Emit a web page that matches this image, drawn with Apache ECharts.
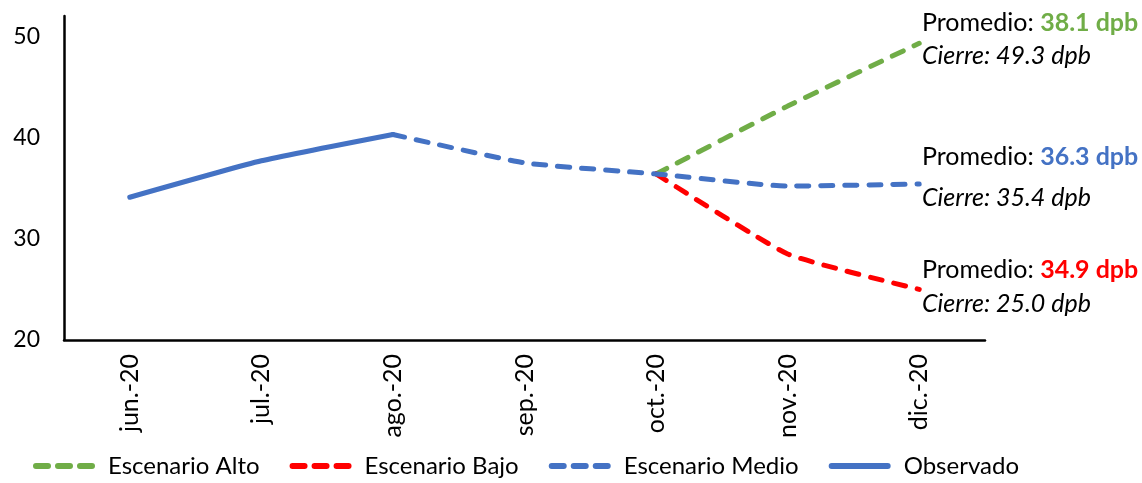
<!DOCTYPE html>
<html>
<head>
<meta charset="utf-8">
<script src="https://cdn.jsdelivr.net/npm/echarts@6/dist/echarts.min.js"></script>
<style>
  html, body { margin: 0; padding: 0; background: #fff; }
  #chart { width: 1142px; height: 483px; }
</style>
</head>
<body>
<div id="chart"></div>
<script>
// meses
const months = ['jun.-20', 'jul.-20', 'ago.-20', 'sep.-20', 'oct.-20', 'nov.-20', 'dic.-20'];
// series (null = sin dato)
const observado = [34.1, 37.7, 40.3, null, null, null, null];
const escMedio = [null, null, 40.3, 37.5, 36.4, 35.2, 35.4];
const escAlto = [null, null, null, null, 36.4, 43.1, 49.3];
const escBajo = [null, null, null, null, 36.4, 28.5, 25.0];
// anotaciones a la derecha
const promedios = ['38.1', '36.3', '34.9'];
const cierres = ['49.3', '35.4', '25.0'];
const yTicks = [20, 30, 40, 50];

const GREEN = '#70AD47', RED = '#FF0000', BLUE = '#4472C4';
const FONT = 'Lato';

// iconos de la leyenda: tres guiones redondeados / una línea
const ICON_DASH = 'path://M3,0 H15 A3,3 0 0 1 15,6 H3 A3,3 0 0 1 3,0 Z ' +
    'M25,0 H37 A3,3 0 0 1 37,6 H25 A3,3 0 0 1 25,0 Z ' +
    'M47,0 H59 A3,3 0 0 1 59,6 H47 A3,3 0 0 1 47,0 Z';
const ICON_SOLID = 'path://M3,0 H59 A3,3 0 0 1 59,6 H3 A3,3 0 0 1 3,0 Z';

let chart = echarts.init(document.getElementById('chart'));

function dashed(name, data, color) {
    return {
        name: name,
        type: 'line',
        data: data,
        smooth: 0.15,
        symbol: 'none',
        connectNulls: false,
        lineStyle: { color: color, width: 5, type: [12, 12], cap: 'round' },
        itemStyle: { color: color }
    };
}

// textos de promedio / cierre
function note(top, gap, i, color) {
    return [
        {
            type: 'text', left: 922, top: top,
            style: {
                text: '{a|Promedio: }{b|' + promedios[i] + ' dpb}',
                rich: {
                    a: { fontFamily: FONT, fontSize: 25, fill: '#000' },
                    b: { fontFamily: FONT, fontSize: 25, fontWeight: 'bold', fill: color }
                }
            }
        },
        {
            type: 'text', left: 922, top: top + gap,
            style: {
                text: 'Cierre: ' + cierres[i] + ' dpb',
                fontFamily: FONT, fontSize: 25, fontStyle: 'italic', fill: '#000'
            }
        }
    ];
}

let option = {
    animation: false,
    textStyle: { fontFamily: FONT },
    grid: { left: 64, right: 157, top: 16, bottom: 143, containLabel: false },
    legend: {
        left: 28, bottom: 0,
        itemWidth: 62, itemHeight: 6, itemGap: 30,
        textStyle: { fontFamily: FONT, fontSize: 24, color: '#000', padding: [0, 0, 0, 8] },
        data: [
            { name: 'Escenario Alto', icon: ICON_DASH },
            { name: 'Escenario Bajo', icon: ICON_DASH },
            { name: 'Escenario Medio', icon: ICON_DASH },
            { name: 'Observado', icon: ICON_SOLID }
        ]
    },
    xAxis: {
        type: 'category',
        data: months,
        boundaryGap: true,
        axisLine: { lineStyle: { color: '#000', width: 2.5 } },
        axisTick: { show: false },
        axisLabel: { rotate: 90, color: '#000', fontFamily: FONT, fontSize: 25, margin: 14 }
    },
    yAxis: {
        type: 'value',
        min: 20, max: 52, interval: 10,
        axisLine: { show: true, lineStyle: { color: '#000', width: 2.5 } },
        axisTick: { show: false },
        splitLine: { show: false },
        axisLabel: {
            color: '#000', fontFamily: FONT, fontSize: 23, margin: 24,
            formatter: v => (yTicks.indexOf(v) >= 0 ? String(v) : '')
        }
    },
    series: [
        dashed('Escenario Alto', escAlto, GREEN),
        dashed('Escenario Bajo', escBajo, RED),
        dashed('Escenario Medio', escMedio, BLUE),
        {
            name: 'Observado',
            type: 'line',
            data: observado,
            smooth: 0.15,
            symbol: 'none',
            lineStyle: { color: BLUE, width: 5, cap: 'round' },
            itemStyle: { color: BLUE }
        }
    ],
    graphic: [].concat(note(10, 33, 0, GREEN), note(144, 41, 1, BLUE), note(257, 34, 2, RED))
};

option && chart.setOption(option);
</script>
</body>
</html>
